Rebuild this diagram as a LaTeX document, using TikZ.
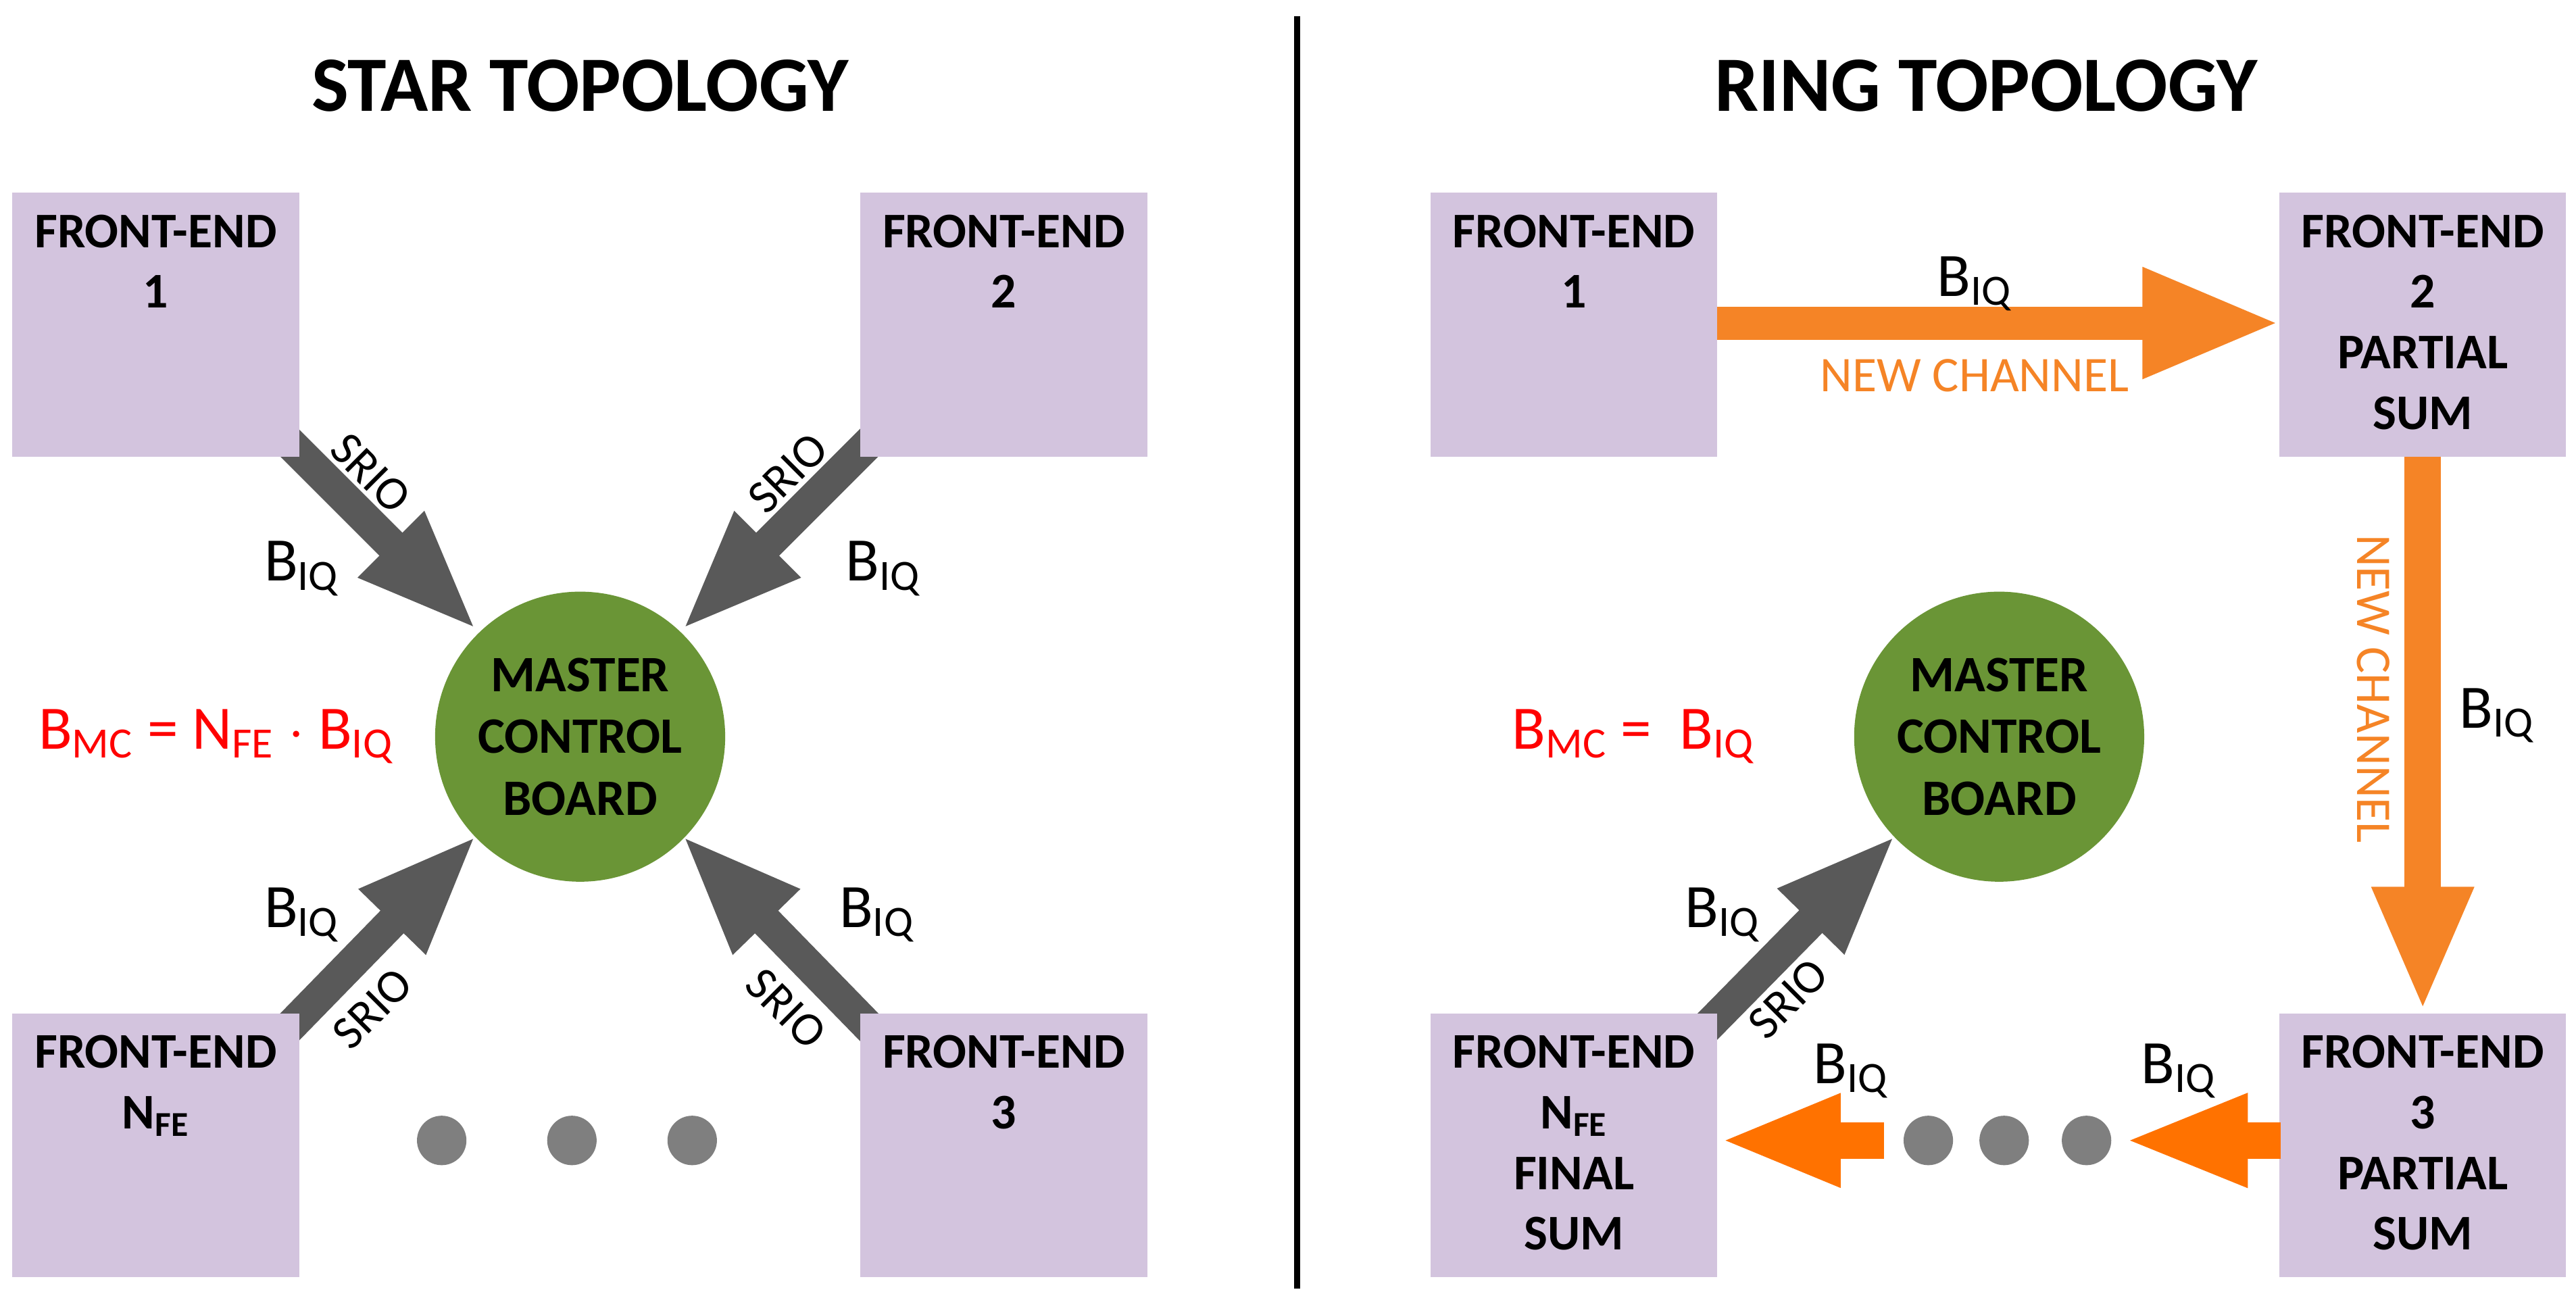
\documentclass[tikz,border=0pt]{standalone}
\usepackage{fontspec}
\setmainfont{Carlito}
\usetikzlibrary{arrows.meta}
\definecolor{fe}{HTML}{D3C4DE}
\definecolor{mc}{HTML}{6A9536}
\definecolor{ga}{HTML}{595959}
\definecolor{dot}{HTML}{7F7F7F}
\definecolor{or1}{HTML}{F58426}
\definecolor{or2}{HTML}{FF7200}
\begin{document}
\begin{tikzpicture}[x=0.02439cm,y=-0.02439cm,
 box/.style={fill=fe,draw=none,minimum width=174*0.02439cm,minimum height=160*0.02439cm,inner sep=0},
 bt/.style={font=\bfseries\fontsize{21}{25.5}\selectfont,align=center,anchor=north,inner sep=0},
 mcs/.style={circle,fill=mc,minimum size=176*0.02439cm,inner sep=0,font=\bfseries\fontsize{21.5}{26}\selectfont,align=center},
 garr/.style={draw=ga,line width=0.48cm,-{Triangle[width=1.24cm,length=1.82cm]}},
 srio/.style={font=\fontsize{20}{24}\selectfont,inner sep=0},
 biq/.style={font=\fontsize{26}{30}\selectfont},
 dt/.style={circle,fill=dot,minimum size=30*0.02439cm,inner sep=0},
 ttl/.style={font=\bfseries\fontsize{33}{38}\selectfont}]
\useasboundingbox (0,0) rectangle (1563,785);
\fill[white] (0,0) rectangle (1563,785);
% divider
\coordinate (d1) at (787,10); \coordinate (d2) at (787,782);
\draw[line width=4*0.02439cm] (d1) -- (d2);
\node[ttl] (t1) at (352,52) {STAR TOPOLOGY};
\node[ttl] (t2) at (1205,52) {RING TOPOLOGY};
% ---- star
\coordinate (s1) at (172,265); \coordinate (e1) at (290,383);
\coordinate (s2) at (531,265); \coordinate (e2) at (413,383);
\coordinate (s3) at (172,627); \coordinate (e3) at (290,506);
\coordinate (s4) at (531,627); \coordinate (e4) at (413,506);
\draw[garr] (s1) -- (e1);
\draw[garr] (s2) -- (e2);
\draw[garr] (s3) -- (e3);
\draw[garr] (s4) -- (e4);
\node[box] (a1) at (94.5,197) {};
\node[bt] at (94.5,130) {FRONT-END\\1};
\node[box] (a2) at (609,197) {};
\node[bt] at (609,130) {FRONT-END\\2};
\node[box] (a3) at (94.5,695) {};
\node[bt] at (94.5,628) {FRONT-END\\N\textsubscript{FE}};
\node[box] (a4) at (609,695) {};
\node[bt] at (609,628) {FRONT-END\\3};
\node[mcs] (m1) at (352,447) {MASTER\\CONTROL\\BOARD};
\node[srio,rotate=-45] (r1) at (225,287) {SRIO};
\node[srio,rotate=45] (r2) at (478,287) {SRIO};
\node[srio,rotate=45] (r3) at (226,612) {SRIO};
\node[srio,rotate=-45] (r4) at (477,612) {SRIO};
\node[biq] (b1) at (183,345) {B\textsubscript{IQ}};
\node[biq] (b2) at (536,345) {B\textsubscript{IQ}};
\node[biq] (b3) at (183,555) {B\textsubscript{IQ}};
\node[biq] (b4) at (532,555) {B\textsubscript{IQ}};
\node[biq,text=red] (eq1) at (131,447) {B\textsubscript{MC} = N\textsubscript{FE} $\cdot$ B\textsubscript{IQ}};
\node[dt] (d11) at (268,692) {};
\node[dt] (d12) at (347,692) {};
\node[dt] (d13) at (420,692) {};
% ---- ring
\coordinate (g1) at (1030,629); \coordinate (g2) at (1151,506);
\draw[garr] (g1) -- (g2);
\node[box] (c1) at (955,197) {};
\node[bt] at (955,130) {FRONT-END\\1};
\node[box] (c2) at (1470,197) {};
\node[bt] at (1470,130) {FRONT-END\\2\\PARTIAL\\SUM};
\node[box] (c3) at (955,695) {};
\node[bt] at (955,628) {FRONT-END\\N\textsubscript{FE}\\FINAL\\SUM};
\node[box] (c4) at (1470,695) {};
\node[bt] at (1470,628) {FRONT-END\\3\\PARTIAL\\SUM};
\node[mcs] (m2) at (1213,447) {MASTER\\CONTROL\\BOARD};
\coordinate (h1) at (1042,196); \coordinate (h2) at (1384,196);
\draw[draw=or1,line width=0.49cm,-{Triangle[width=1.5cm,length=2.05cm]}] (h1) -- (h2);
\node[biq] (hb) at (1198,172) {B\textsubscript{IQ}};
\node[font=\fontsize{21}{25}\selectfont,text=or1] (hn) at (1198,228) {NEW CHANNEL};
\coordinate (v1) at (1470,277); \coordinate (v2) at (1470,614);
\draw[draw=or1,line width=0.54cm,-{Triangle[width=1.37cm,length=1.85cm]}] (v1) -- (v2);
\node[font=\fontsize{21}{25}\selectfont,text=or1,rotate=-90] (vn) at (1440,418) {NEW CHANNEL};
\node[biq] (vb) at (1515,434) {B\textsubscript{IQ}};
\coordinate (k1) at (1384,692); \coordinate (k2) at (1288,692);
\draw[draw=or2,line width=0.54cm,-{Triangle[width=1.25cm,length=1.85cm]}] (k1) -- (k2);
\coordinate (k3) at (1143,692); \coordinate (k4) at (1043,692);
\draw[draw=or2,line width=0.54cm,-{Triangle[width=1.25cm,length=1.8cm]}] (k3) -- (k4);
\node[biq] (kb1) at (1322,650) {B\textsubscript{IQ}};
\node[biq] (kb2) at (1123,650) {B\textsubscript{IQ}};
\node[dt] (d21) at (1170,692) {};
\node[dt] (d22) at (1216,692) {};
\node[dt] (d23) at (1266,692) {};
\node[srio,rotate=45] (gr) at (1085,606) {SRIO};
\node[biq] (gb) at (1045,555) {B\textsubscript{IQ}};
\node[biq,text=red] (eq2) at (991,447) {B\textsubscript{MC} =\ \ B\textsubscript{IQ}};
\end{tikzpicture}
\end{document}
